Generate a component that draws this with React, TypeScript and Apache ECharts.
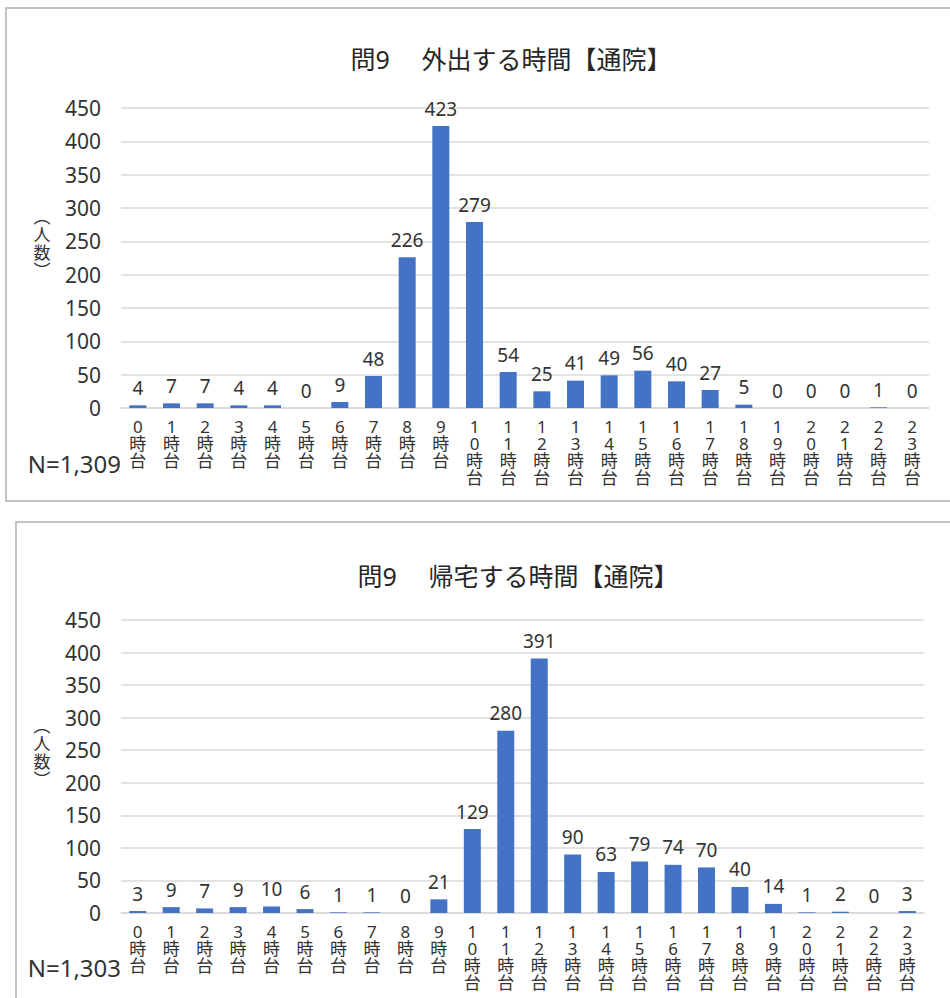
import React, { useEffect, useRef } from "react";
import * as echarts from "echarts";

const categories: string[] = [
  "0時台", "1時台", "2時台", "3時台", "4時台", "5時台", "6時台", "7時台",
  "8時台", "9時台", "10時台", "11時台", "12時台", "13時台", "14時台", "15時台",
  "16時台", "17時台", "18時台", "19時台", "20時台", "21時台", "22時台", "23時台",
];
const outValues: number[] = [4, 7, 7, 4, 4, 0, 9, 48, 226, 423, 279, 54, 25, 41, 49, 56, 40, 27, 5, 0, 0, 0, 1, 0];
const homeValues: number[] = [3, 9, 7, 9, 10, 6, 1, 1, 0, 21, 129, 280, 391, 90, 63, 79, 74, 70, 40, 14, 1, 2, 0, 3];
const titles: string[] = ["問9　 外出する時間【通院】", "問9　 帰宅する時間【通院】"];
const nLabels: string[] = ["N=1,309", "N=1,303"];
const yAxisName = "︵\n人\n数\n︶";
const yMax = 450;
const yInterval = 50;

const FONT = "'Noto Sans', 'Noto Sans CJK JP', sans-serif";
const TXT = "#333333";
const BAR = "#4472C4";

export default function App() {
  const ref = useRef<HTMLDivElement>(null);
  useEffect(() => {
    if (!ref.current) return;
    const chart = echarts.init(ref.current, null, { renderer: "svg" });
    const grids = [
      { left: 121, top: 108, width: 808, height: 300 },
      { left: 121, top: 620, width: 803, height: 293 },
    ];
    const mkX = (i: number) => ({
      type: "category",
      gridIndex: i,
      data: categories,
      axisTick: { show: false },
      axisLine: { lineStyle: { color: "#d9d9d9", width: 1.5 } },
      axisLabel: {
        interval: 0,
        margin: 10,
        fontSize: 17,
        lineHeight: 17,
        verticalAlign: "top",
        color: TXT,
        fontFamily: FONT,
        formatter: (v: string) => v.split("").join("\n"),
      },
    });
    const mkY = (i: number) => ({
      type: "value",
      gridIndex: i,
      min: 0,
      max: yMax,
      interval: yInterval,
      axisLine: { show: false },
      axisTick: { show: false },
      splitLine: { lineStyle: { color: "#d9d9d9", width: 1.5 } },
      axisLabel: { margin: 20, fontSize: 21, color: TXT, fontFamily: FONT },
    });
    const mkSeries = (i: number, data: number[]) => ({
      type: "bar",
      xAxisIndex: i,
      yAxisIndex: i,
      data,
      barWidth: 17,
      itemStyle: { color: BAR },
      label: {
        show: true,
        position: "top",
        distance: 8,
        fontSize: 19,
        color: TXT,
        fontFamily: FONT,
      },
    });
    const titleStyle = { fontSize: 25, fontWeight: "normal", color: "#262626", fontFamily: FONT };
    chart.setOption({
      animation: false,
      backgroundColor: "#ffffff",
      title: [
        { text: titles[0], left: 506, top: 41, textAlign: "center", textStyle: titleStyle },
        { text: titles[1], left: 513, top: 558, textAlign: "center", textStyle: titleStyle },
      ],
      grid: grids,
      xAxis: [mkX(0), mkX(1)],
      yAxis: [mkY(0), mkY(1)],
      series: [mkSeries(0, outValues), mkSeries(1, homeValues)],
      graphic: [
        {
          type: "rect",
          shape: { x: 6, y: 8, width: 980, height: 493 },
          style: { fill: "none", stroke: "#c4c4c4", lineWidth: 2 },
          silent: true,
        },
        {
          type: "rect",
          shape: { x: 16, y: 522, width: 980, height: 520 },
          style: { fill: "none", stroke: "#c4c4c4", lineWidth: 2 },
          silent: true,
        },
        {
          type: "text",
          x: 42,
          y: 243,
          style: {
            text: yAxisName,
            fontSize: 17,
            lineHeight: 18,
            fill: TXT,
            fontFamily: FONT,
            align: "center",
            verticalAlign: "middle",
          },
        },
        {
          type: "text",
          x: 42,
          y: 752,
          style: {
            text: yAxisName,
            fontSize: 17,
            lineHeight: 18,
            fill: TXT,
            fontFamily: FONT,
            align: "center",
            verticalAlign: "middle",
          },
        },
        {
          type: "text",
          x: 121,
          y: 463,
          style: {
            text: nLabels[0],
            fontSize: 24,
            fill: TXT,
            fontFamily: FONT,
            align: "right",
            verticalAlign: "middle",
          },
        },
        {
          type: "text",
          x: 121,
          y: 967,
          style: {
            text: nLabels[1],
            fontSize: 24,
            fill: TXT,
            fontFamily: FONT,
            align: "right",
            verticalAlign: "middle",
          },
        },
      ],
    });
    return () => chart.dispose();
  }, []);
  return (
    <div
      ref={ref}
      style={{ position: "absolute", left: 0, top: 0, width: 950, height: 998 }}
    />
  );
}
